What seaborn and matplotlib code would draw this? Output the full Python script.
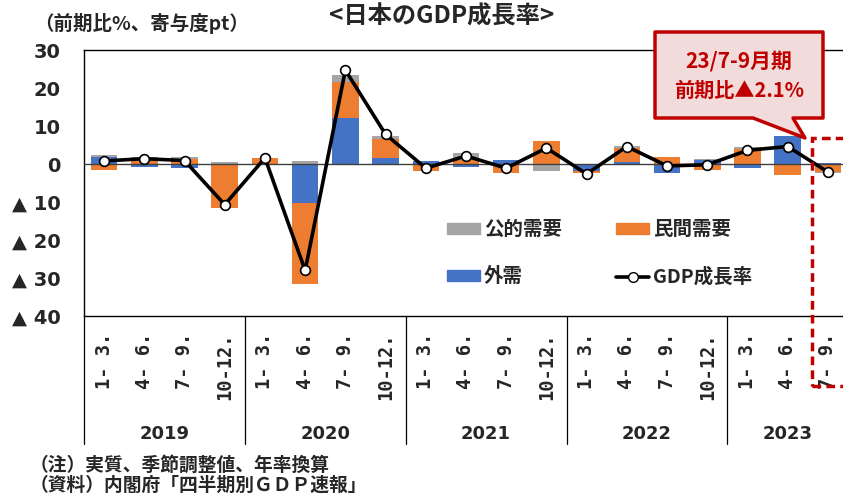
import numpy as np
import pandas as pd
import matplotlib
matplotlib.use("Agg")
import matplotlib.pyplot as plt
import matplotlib.transforms as mtransforms
from matplotlib.patches import Patch, Polygon, Rectangle
from matplotlib.lines import Line2D
import seaborn as sns

# ---------------- data ----------------
periods = ["2019Q1", "2019Q2", "2019Q3", "2019Q4",
           "2020Q1", "2020Q2", "2020Q3", "2020Q4",
           "2021Q1", "2021Q2", "2021Q3", "2021Q4",
           "2022Q1", "2022Q2", "2022Q3", "2022Q4",
           "2023Q1", "2023Q2", "2023Q3"]
quarter_labels = ["1- 3.", "4- 6.", "7- 9.", "10-12."] * 4 + ["1- 3.", "4- 6.", "7- 9."]
years = ["2019", "2020", "2021", "2022", "2023"]
year_counts = [4, 4, 4, 4, 3]

external = [1.75, -0.9, -1.1, 0.0, 0.0, -10.3, 12.2, 1.5,
            0.7, -0.9, 1.05, 0.0, -1.75, 0.45, -2.4, 1.05,
            -1.05, 7.3, 0.2]
private = [-1.6, 0.8, 1.2, -11.7, 1.6, -21.3, 9.3, 5.0,
           -1.75, 1.05, -2.4, 6.0, -0.6, 3.8, 1.9, -1.6,
           4.0, -2.9, -2.0]
public = [0.7, 1.0, 0.7, 0.45, 0.0, 0.9, 2.0, 1.0,
          -0.1, 1.75, 0.0, -1.9, -0.1, 0.6, 0.0, 0.2,
          0.35, 0.0, -0.3]
gdp = [0.8, 1.4, 0.9, -10.7, 1.6, -28.0, 24.7, 7.8,
       -1.1, 2.1, -1.1, 4.2, -2.6, 4.6, -0.5, -0.2,
       3.6, 4.6, -2.1]

series_names = ["外需", "民間需要", "公的需要"]
series_values = [external, private, public]
series_colors = ["#4472C4", "#ED7D31", "#A5A5A5"]

# ---------------- style ----------------
sns.set_theme(style="white")
plt.rcParams["font.family"] = ["Noto Sans CJK JP", "DejaVu Sans"]
plt.rcParams["font.weight"] = "bold"

W, H = 843, 496
fig = plt.figure(figsize=(W / 100, H / 100), dpi=100)
ax = fig.add_axes([84 / W, 1 - 316 / H, 764 / W, 266 / H])

# stacked bars (positives and negatives stacked separately)
pos_base = np.zeros(len(periods))
neg_base = np.zeros(len(periods))
for name, vals, col in zip(series_names, series_values, series_colors):
    v = np.array(vals, dtype=float)
    bottom = np.where(v >= 0, pos_base, neg_base)
    df = pd.DataFrame({"period": periods, "value": v})
    sns.barplot(data=df, x="period", y="value", order=periods, color=col,
                width=0.66, bottom=bottom, saturation=1, ax=ax,
                linewidth=0, errorbar=None)
    pos_base = np.where(v >= 0, pos_base + v, pos_base)
    neg_base = np.where(v < 0, neg_base + v, neg_base)

ax.axhline(0, color="#404040", lw=1.0, zorder=3)

df_gdp = pd.DataFrame({"period": periods, "gdp": gdp})
sns.lineplot(data=df_gdp, x="period", y="gdp", sort=False, color="black",
             lw=2.6, marker="o", markersize=7, markerfacecolor="white",
             markeredgecolor="black", markeredgewidth=1.2, ax=ax, zorder=5)

ax.set_xlim(-0.5, len(periods) - 0.5)
ax.set_ylim(-40, 30)
ax.set_xlabel("")
ax.set_ylabel("")

yt = list(range(-40, 31, 10))
ax.set_yticks(yt)
ax.set_yticklabels([f"▲ {abs(t)}" if t < 0 else f"{t}" for t in yt],
                   fontfamily="DejaVu Sans", fontweight="bold", fontsize=14)
ax.tick_params(axis="y", length=0, pad=17)

ax.set_xticks(range(len(periods)))
ax.set_xticklabels(quarter_labels, rotation=90, fontfamily="DejaVu Sans Mono",
                   fontweight="bold", fontsize=13.5)
ax.tick_params(axis="x", length=0, pad=12)

for sp in ax.spines.values():
    sp.set_visible(True)
    sp.set_color("black")
    sp.set_linewidth(1.0)

# year group separators and labels
trans = mtransforms.blended_transform_factory(ax.transData, ax.transAxes)
start = 0
for yr, cnt in zip(years, year_counts):
    ax.plot([start - 0.5, start - 0.5], [0, -0.48], transform=trans,
            color="black", lw=0.9, clip_on=False)
    ax.text(start + (cnt - 1) / 2, -0.445, yr, transform=trans, ha="center",
            va="center", fontsize=13, fontweight="bold", fontfamily="DejaVu Sans")
    start += cnt

# legend
handles = [Patch(color=series_colors[2], label=series_names[2]),
           Patch(color=series_colors[0], label=series_names[0]),
           Patch(color=series_colors[1], label=series_names[1]),
           Line2D([], [], color="black", lw=2.6, marker="o", markersize=7,
                  markerfacecolor="white", markeredgecolor="black",
                  label="GDP成長率")]
leg = fig.legend(handles=handles, ncol=2, loc="upper left",
                 bbox_to_anchor=(447 / W, 1 - 220 / H), frameon=False,
                 prop={"family": ["Noto Sans CJK JP", "DejaVu Sans"],
                       "weight": "bold", "size": 14},
                 handlelength=1.7, handleheight=0.5, handletextpad=0.2,
                 columnspacing=2.8, labelspacing=1.45, borderpad=0,
                 borderaxespad=0)

# texts
fig.text(442 / W, 1 - 17 / H, "<日本のGDP成長率>", ha="center", va="center",
         fontsize=17.5, fontweight="bold")
fig.text(34 / W, 1 - 23 / H, "（前期比%、寄与度pt）", ha="left", va="center",
         fontsize=14, fontweight="bold")
fig.text(30 / W, 1 - 465 / H, "（注）実質、季節調整値、年率換算", ha="left",
         va="center", fontsize=13.5, fontweight="bold")
fig.text(30 / W, 1 - 485 / H, "（資料）内閣府「四半期別ＧＤＰ速報」", ha="left",
         va="center", fontsize=13.5, fontweight="bold")

# callout
red = "#C00000"
pts = [(655, 32), (823, 32), (823, 118), (793, 118), (805, 138), (753, 118), (655, 118)]
poly = Polygon([(x / W, 1 - y / H) for x, y in pts], closed=True,
               transform=fig.transFigure, facecolor="#F2DCDB", edgecolor=red,
               lw=2.5, joinstyle="round", zorder=10)
fig.add_artist(poly)
fig.text(739 / W, 1 - 61 / H, "23/7-9月期", ha="center", va="center",
         fontsize=15, fontweight="bold", color=red, zorder=11)
fig.text(739 / W, 1 - 90 / H, "前期比▲2.1%", ha="center", va="center",
         fontsize=14.5, fontweight="bold", color=red, zorder=11)

rect = Rectangle((812 / W, 1 - 386 / H), 40 / W, 248 / H, transform=fig.transFigure,
                 fill=False, edgecolor=red, lw=2.5, linestyle=(0, (2.5, 1.5)),
                 zorder=10)
fig.add_artist(rect)

fig.savefig("out.png", dpi=100)
